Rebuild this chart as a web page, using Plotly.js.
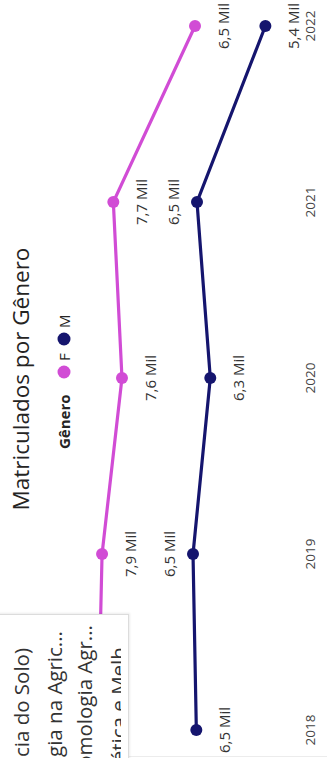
<!DOCTYPE html>
<html>
<head>
<meta charset="utf-8">
<script src="https://cdn.plot.ly/plotly-3.0.1.min.js"></script>
<style>
  html, body { margin:0; padding:0; background:#fff; overflow:hidden; width:327px; height:758px; }
  #wrap { position:absolute; left:0; top:0; width:758px; height:327px; transform-origin:0 0;
          transform: translate(0px, 758px) rotate(-90deg); overflow:hidden; background:#fff; }
  #chart { position:absolute; left:0; top:0; width:758px; height:327px; }
  #edge { position:absolute; left:1px; top:0; width:1px; height:327px; background:#ececec; }
  #panel { position:absolute; left:-20px; top:-20px; width:162px; height:147px; background:#fff;
           border:1px solid #dcdcdc; box-shadow: 1px 1px 2px rgba(0,0,0,0.08); }
  #list { position:absolute; left:0; top:0; width:150px; height:121px; overflow:hidden; }
  .item { position:absolute; left:-300px; text-align:right; white-space:nowrap;
          font-family:"Open Sans", sans-serif; font-size:20.5px; line-height:28px; color:#333; }
</style>
</head>
<body>
<div id="wrap">
  <div id="chart"></div>
  <div id="edge"></div>
  <div id="panel"></div>
  <div id="list"></div>
</div>
<script>
// ---- data ----
const years = [2018, 2019, 2020, 2021, 2022];
const matriculadosF = [7960, 7900, 7600, 7730, 6500];
const matriculadosM = [6480, 6530, 6270, 6470, 5440];
const labelPosF = ['above', 'below', 'below', 'below', 'below'];
const labelPosM = ['below', 'above', 'below', 'above', 'below'];
const seriesNames = ['F', 'M'];
const seriesColors = ['#D14CD5', '#15156E'];
const legendTitle = 'Gênero';
const chartTitle = 'Matriculados por Gênero';
const yearLabels = ['2018', '2019', '2020', '2021', '2022'];
const listItems = ['Agronomia (Ciência do Solo)', 'Biotecnologia na Agric...', 'Entomologia Agr...', 'Genética e Melh...'];

// ---- list panel (overlapping dropdown) ----
const listRight = [110, 127, 133, 127];
const listTop = [7, 40, 70, 104];
const listEl = document.getElementById('list');
listItems.forEach((t, i) => {
  const d = document.createElement('div');
  d.className = 'item';
  d.style.top = listTop[i] + 'px';
  d.style.width = (300 + listRight[i]) + 'px';
  d.textContent = t;
  listEl.appendChild(d);
});

// ---- chart ----
const fmt = v => (v / 1000).toFixed(1).replace('.', ',') + ' Mil';
const seriesVals = [matriculadosF, matriculadosM];
const seriesPos = [labelPosF, labelPosM];

const traces = seriesVals.map((vals, s) => ({
  type: 'scatter', mode: 'lines+markers', name: seriesNames[s],
  x: years, y: vals,
  line: { color: seriesColors[s], width: 3.2 },
  marker: { color: seriesColors[s], size: 12 },
  cliponaxis: false, hoverinfo: 'skip'
}));

const annotations = [];
seriesVals.forEach((vals, s) => {
  vals.forEach((v, i) => {
    annotations.push({
      x: years[i], y: v, xref: 'x', yref: 'y', text: fmt(v), showarrow: false,
      xanchor: 'center', yanchor: 'middle',
      yshift: seriesPos[s][i] === 'above' ? 24 : -28,
      font: { family: 'Open Sans, sans-serif', size: 15, color: '#333' }
    });
  });
});

// manual compact legend
const W = 758, PH = 300;
const legY = 1 - 64 / PH;
annotations.push({
  x: 336 / W, y: legY, xref: 'paper', yref: 'paper', text: '<b>' + legendTitle + '</b>',
  showarrow: false, xanchor: 'center', yanchor: 'middle',
  font: { family: 'Open Sans, sans-serif', size: 15, color: '#252423' }
});
const legCircle = [386, 419];
const legText = [401, 437];
const shapes = [];
seriesNames.forEach((n, s) => {
  shapes.push({
    type: 'circle', xref: 'paper', yref: 'paper', xsizemode: 'pixel', ysizemode: 'pixel',
    xanchor: legCircle[s] / W, yanchor: legY, x0: -6.5, x1: 6.5, y0: -6.5, y1: 6.5,
    fillcolor: seriesColors[s], line: { width: 0 }
  });
  annotations.push({
    x: legText[s] / W, y: legY, xref: 'paper', yref: 'paper', text: n, showarrow: false,
    xanchor: 'center', yanchor: 'middle',
    font: { family: 'Open Sans, sans-serif', size: 15, color: '#252423' }
  });
});

const layout = {
  width: 758, height: 327,
  margin: { l: 0, r: 0, t: 0, b: 27, pad: 0 },
  paper_bgcolor: 'rgba(0,0,0,0)', plot_bgcolor: 'rgba(0,0,0,0)',
  showlegend: false,
  title: { text: chartTitle, x: 0.5, xanchor: 'center', xref: 'container',
           y: 1 - 21 / 327, yanchor: 'middle', yref: 'container',
           font: { family: 'Open Sans, sans-serif', size: 22.5, color: '#252423' } },
  xaxis: { type: 'linear', range: [2018 - 28 / 176, 2022 + 26 / 176],
           tickvals: years, ticktext: yearLabels, showgrid: false, zeroline: false,
           showline: false, ticks: '', fixedrange: true,
           tickfont: { family: 'Open Sans, sans-serif', size: 13.5, color: '#444' } },
  yaxis: { range: [9437 - PH / 66.4 * 1000, 9437], visible: false, fixedrange: true },
  annotations: annotations, shapes: shapes,
  font: { family: 'Open Sans, sans-serif' }
};

Plotly.newPlot('chart', traces, layout, { staticPlot: true, displayModeBar: false });
</script>
</body>
</html>
